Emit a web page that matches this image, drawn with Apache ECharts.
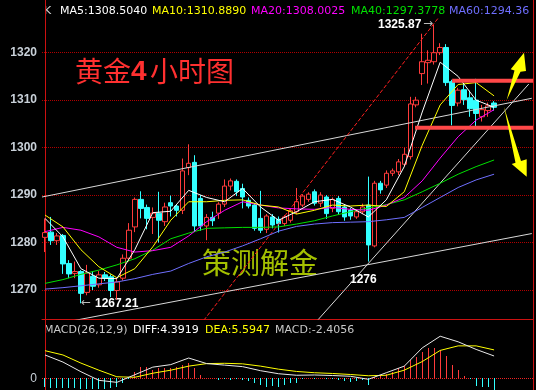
<!DOCTYPE html>
<html><head><meta charset="utf-8">
<script src="https://cdn.jsdelivr.net/npm/echarts@6/dist/echarts.min.js"></script>
<style>html,body{margin:0;padding:0;background:#000}#c{width:536px;height:390px}</style>
</head><body><div id="c"></div>
<script>
// ---- candle data (76 four-hour bars) ----
const opens = [1281.1,1282.2,1280.4,1281.5,1275.6,1273.5,1273.9,1269.5,1272.9,1271.1,
1273.2,1272.8,1269.9,1272.5,1276.7,1283.3,1289.1,1287.4,1285.3,1286.2,
1284.4,1288.4,1287.7,1286.8,1295.8,1296.9,1289.3,1283.5,1285.3,1286.2,
1288.1,1291.9,1292.9,1291.4,1288.9,1287.9,1285.1,1282.8,1285.4,1284.9,
1284.0,1284.7,1286.5,1287.9,1289.1,1290.7,1288.3,1289.6,1287.2,1289.3,
1287.5,1286.8,1285.4,1286.5,1287.9,1279.3,1292.5,1292.1,1294.6,1294.9,
1296.5,1298.1,1309.0,1315.6,1317.9,1318.1,1320.0,1321.1,1313.9,1309.4,
1312.2,1310.5,1310.0,1306.5,1307.8,1309.4];
const closes = [1282.1,1280.4,1281.4,1275.5,1273.4,1273.9,1269.3,1273.6,1270.8,1273.2,
1272.5,1269.9,1271.7,1276.7,1282.6,1289.1,1287.2,1285.1,1286.2,1284.7,
1287.5,1287.7,1286.8,1295.1,1296.7,1283.5,1283.5,1285.3,1284.6,1288.1,
1291.9,1293.0,1290.7,1289.6,1287.7,1283.0,1282.6,1285.6,1283.7,1284.0,
1285.4,1286.7,1288.6,1289.8,1290.2,1288.3,1290.0,1286.1,1289.1,1286.5,
1285.4,1285.6,1286.5,1287.5,1279.5,1292.5,1291.1,1294.6,1295.1,1297.0,
1298.6,1309.2,1310.0,1318.1,1318.4,1320.0,1321.1,1313.7,1308.9,1312.1,
1310.1,1308.2,1307.2,1308.0,1308.8,1308.5];
const lows = [1278.0,1279.5,1279.5,1273.4,1272.5,1272.5,1267.21,1268.9,1270.0,1270.5,
1271.9,1268.5,1268.0,1272.0,1276.0,1282.2,1285.1,1282.8,1281.8,1280.0,
1283.5,1285.5,1285.5,1286.0,1294.2,1282.2,1282.5,1280.5,1283.5,1285.0,
1287.5,1291.0,1289.8,1287.2,1287.2,1282.5,1282.0,1282.0,1283.0,1282.1,
1283.5,1284.2,1286.0,1287.5,1288.6,1287.8,1287.5,1285.0,1286.4,1285.8,
1284.6,1284.8,1285.0,1286.0,1276.0,1279.0,1290.3,1291.5,1294.0,1294.2,
1296.0,1297.5,1308.5,1313.2,1313.5,1317.5,1319.5,1313.0,1304.7,1308.7,
1309.0,1306.5,1304.5,1305.5,1306.5,1307.8];
const highs = [1285.0,1285.4,1282.0,1281.8,1276.3,1276.0,1274.2,1275.3,1274.0,1274.0,
1273.8,1273.3,1272.5,1277.5,1284.1,1289.5,1290.8,1288.0,1287.4,1290.7,
1288.4,1289.9,1288.0,1297.7,1300.7,1298.4,1290.0,1286.0,1286.5,1288.5,
1293.3,1293.5,1293.3,1292.4,1289.5,1288.3,1290.9,1286.0,1286.0,1285.5,
1285.8,1287.2,1291.5,1290.2,1290.6,1291.2,1290.6,1290.0,1289.5,1289.8,
1288.0,1287.3,1287.0,1288.2,1293.9,1293.0,1293.0,1295.2,1295.6,1297.6,
1300.0,1310.7,1310.7,1324.0,1320.5,1325.87,1322.0,1321.8,1314.3,1312.6,
1313.5,1312.0,1314.5,1309.0,1309.5,1309.8];

// ---- moving averages read at every third bar ----
const maIdx = [0,3,6,9,12,15,18,21,24,27,30,33,36,39,42,45,48,51,54,57,60,63,66,69,72,75];
const ma5  = [1285.1,1281.2,1274.5,1272.5,1272.4,1278.5,1286.3,1286.6,1291.0,1289.5,1288.6,1291.4,1287.5,1284.7,1286.5,1288.6,1289.1,1287.5,1285.4,1289.0,1296.0,1307.5,1318.0,1315.0,1310.0,1308.5];
const ma10 = [1285.8,1283.3,1278.5,1274.9,1272.6,1274.5,1279.1,1284.7,1288.6,1288.6,1288.9,1289.0,1287.9,1287.5,1286.0,1286.8,1287.9,1287.7,1287.9,1287.6,1290.7,1300.5,1309.0,1313.3,1313.7,1310.9];
const ma20 = [1282.3,1283.2,1282.6,1281.2,1279.0,1278.0,1278.3,1279.0,1281.4,1284.4,1286.8,1288.6,1287.9,1287.3,1287.1,1287.0,1287.4,1287.0,1286.8,1287.9,1289.5,1293.0,1297.8,1302.3,1305.8,1308.0];
const ma40 = [1271.4,1272.2,1273.3,1274.2,1275.3,1276.6,1278.4,1280.8,1282.0,1283.0,1283.1,1283.2,1283.2,1283.3,1283.9,1284.6,1285.6,1286.5,1287.3,1288.0,1289.0,1290.7,1292.5,1294.4,1296.0,1297.4];
const ma60 = [1270.2,1270.5,1270.9,1271.3,1271.7,1272.4,1273.3,1274.0,1275.6,1277.0,1278.0,1279.3,1280.8,1282.4,1283.4,1283.9,1284.2,1284.3,1284.4,1284.8,1285.3,1287.4,1289.5,1291.6,1293.2,1294.4];

// ---- MACD(26,12,9) ----
const macdHist = [-1.7,-1.9,-1.9,-2.0,-2.0,-2.0,-2.2,-2.2,-2.2,-2.2,
-2.2,-2.0,-1.8,-1.0,-0.2,1.3,2.2,2.2,1.6,2.0,
2.0,2.0,2.3,2.6,3.0,2.0,0.7,0.1,0,-0.3,
-0.1,-0.3,-0.2,-0.3,-0.6,-1.0,-1.3,-1.8,-1.5,-1.8,
-1.3,-1.0,-0.85,-0.2,0.1,-0.1,0.1,-0.2,-0.1,-0.3,
-0.6,-0.7,-0.6,-0.4,-1.4,0.2,0.5,0.9,1.3,2.0,
2.4,3.6,4.3,5.26,6.04,6.04,5.58,4.4,2.62,1.64,
0.45,-0.2,-1.6,-1.8,-1.8,-2.4];
const diffVals = [4.6,3.2,1.3,-0.4,-0.8,0.7,2.2,2.7,4.0,2.9,2.6,2.3,1.5,0.9,0.6,0.65,0.55,0.4,-0.2,1.1,2.4,6.0,8.3,7.2,5.7,4.4];
const deaVals  = [5.45,4.6,3.0,1.6,0.3,0.2,1.0,1.6,2.4,2.9,2.96,2.85,2.4,1.8,1.35,1.1,0.95,0.75,0.5,0.6,1.6,3.3,5.5,6.4,6.4,5.6];

// ---- drawn trend lines: [bar index, price] ----
const channelUpper = [[-0.5,1289.6],[81.3,1310.4]];
const channelLower = [[-0.5,1262.3],[81.3,1281.9]];
const riseLine     = [[44.5,1262.2],[80.8,1313.4]];
const redDiagonal  = [[26.5,1263.6],[65.8,1327.5]];
const resistance   = [[68,1314.1],[81.5,1314.1]];
const support      = [[61.8,1304.2],[81.5,1304.2]];

const priceTicks = [1270,1280,1290,1300,1310,1320];
const slotCount = 82;
const categories = Array.from({length: slotCount}, (_, i) => 'B' + i);

const legendItems = [
  {text:'K', color:'#d8d8d8'},
  {text:'MA5:1308.5040', color:'#ffffff'},
  {text:'MA10:1310.8890', color:'#ffff00'},
  {text:'MA20:1308.0025', color:'#ff00ff'},
  {text:'MA40:1297.3778', color:'#00e000'},
  {text:'MA60:1294.36', color:'#6f6fff'}
];
const legendX = [44,60,152,251,351,449];
const macdItems = [
  {text:'MACD(26,12,9)', color:'#c8c8c8'},
  {text:'DIFF:4.3919', color:'#ffffff'},
  {text:'DEA:5.5947', color:'#ffff00'},
  {text:'MACD:-2.4056', color:'#c8c8c8'}
];
const macdX = [44,133,205,275];

const candleData = opens.map((o, i) => [o, closes[i], lows[i], highs[i]]);
const pairs = (vals) => maIdx.map((ix, k) => [ix, vals[k]]);

const UP = '#ff3b3b', DOWN = '#33ffff', AXISRED = '#cc1111', GRIDRED = '#b00000';
const FONT = '"DejaVu Sans", sans-serif';

function lineSeries(data, color, width, xi, yi, type) {
  return {type:'line', data, xAxisIndex: xi, yAxisIndex: yi, symbol:'none', silent:true,
    lineStyle:{color, width, type: type || 'solid'}, clip:true};
}

const graphic = [];
legendItems.forEach((it, k) => graphic.push({type:'text', x: legendX[k], y: 11,
  style:{text: it.text, fill: it.color, font: '11px ' + FONT, verticalAlign:'middle'}}));
macdItems.forEach((it, k) => graphic.push({type:'text', x: macdX[k], y: 330,
  style:{text: it.text, fill: it.color, font: '11px ' + FONT, verticalAlign:'middle'}}));
graphic.push(
  {type:'text', x:75, y:71.5, style:{text:'黄金', fill:'#ff3030', font:'28px "Noto Sans CJK SC"', verticalAlign:'middle'}},
  {type:'text', x:131, y:72.5, style:{text:'4', fill:'#ff3030', font:'bold 28px "Liberation Sans"', verticalAlign:'middle'}},
  {type:'text', x:150, y:71.5, style:{text:'小时图', fill:'#ff3030', font:'28px "Noto Sans CJK SC"', verticalAlign:'middle'}},
  {type:'text', x:202, y:263, style:{text:'策测解金', fill:'#a4c000', font:'29px "Noto Sans CJK SC"', verticalAlign:'middle'}},
  {type:'text', x:378, y:24.5, style:{text:'1325.87', fill:'#ffffff', font:'bold 12px "Liberation Sans"', verticalAlign:'middle'}},
  {type:'text', x:423, y:24, style:{text:'→', fill:'#bbbbbb', font:'12px "DejaVu Sans"', verticalAlign:'middle'}},
  {type:'text', x:81, y:303, style:{text:'←', fill:'#bbbbbb', font:'12px "DejaVu Sans"', verticalAlign:'middle'}},
  {type:'text', x:95, y:303.5, style:{text:'1267.21', fill:'#ffffff', font:'bold 12px "Liberation Sans"', verticalAlign:'middle'}},
  {type:'text', x:350, y:279.5, style:{text:'1276', fill:'#ffffff', font:'bold 12px "Liberation Sans"', verticalAlign:'middle'}},
  {type:'polygon', z:100, shape:{points:[[506.7,100],[514.5,70.5],[510.7,69.3],[524,52.7],[526,71],[520.5,71.7]]}, style:{fill:'#ffff00'}},
  {type:'polygon', z:100, shape:{points:[[504,106.7],[521,161],[526.7,159.3],[526.7,176.7],[511.7,164],[515.5,162.8]]}, style:{fill:'#ffff00'}},
  {type:'line', shape:{x1:533.5,y1:0,x2:533.5,y2:390}, style:{stroke:AXISRED, lineWidth:1}}
);

const option = {
  animation:false,
  backgroundColor:'#000',
  grid:[
    {left:42, right:3, top:0, height:319, show:false},
    {left:42, right:3, top:319, height:71, show:false}
  ],
  xAxis:[
    {type:'category', gridIndex:0, data:categories, boundaryGap:true,
      axisLine:{show:true, lineStyle:{color:AXISRED}}, axisTick:{show:false}, axisLabel:{show:false}, splitLine:{show:false}},
    {type:'value', gridIndex:0, min:-0.5, max:slotCount-0.5, show:false},
    {type:'category', gridIndex:1, data:categories, boundaryGap:true, show:false},
    {type:'value', gridIndex:1, min:-0.5, max:slotCount-0.5, show:false}
  ],
  yAxis:[
    {type:'value', gridIndex:0, min:1263.9, max:1331.1, position:'left',
      axisLine:{show:true, lineStyle:{color:AXISRED}},
      axisTick:{show:false, customValues:priceTicks},
      axisLabel:{customValues:priceTicks, formatter:(v) => String(v), color:'#c8d0d8', fontFamily:'Liberation Sans', fontWeight:'bold', fontSize:12, margin:5},
      splitLine:{show:true, lineStyle:{color:GRIDRED, type:'dotted', width:1}}},
    {type:'value', gridIndex:1, min:-2.31, max:11.7, position:'left',
      axisLine:{show:true, lineStyle:{color:AXISRED}},
      axisTick:{show:false, customValues:[0]},
      axisLabel:{customValues:[0], formatter:(v) => String(v), color:'#c8d0d8', fontFamily:'Liberation Sans', fontSize:12, margin:5},
      splitLine:{show:true, lineStyle:{color:'#ee2222', type:'dotted', width:1}}}
  ],
  series:[
    lineSeries(channelUpper, '#d8d8d8', 1, 1, 0),
    lineSeries(channelLower, '#d8d8d8', 1, 1, 0),
    lineSeries(riseLine, '#d8d8d8', 1, 1, 0),
    lineSeries(redDiagonal, '#ff2020', 1, 1, 0, [4,2]),
    {type:'candlestick', xAxisIndex:0, yAxisIndex:0, data:candleData, barWidth:5, silent:true,
      itemStyle:{color:'#000', color0:DOWN, borderColor:UP, borderColor0:DOWN, borderColorDoji:UP, borderWidth:1}},
    lineSeries(pairs(ma60), '#6f6fff', 1, 1, 0),
    lineSeries(pairs(ma40), '#00e000', 1, 1, 0),
    lineSeries(pairs(ma20), '#ff00ff', 1, 1, 0),
    lineSeries(pairs(ma10), '#ffff00', 1, 1, 0),
    lineSeries(pairs(ma5), '#ffffff', 1, 1, 0),
    lineSeries(resistance, '#ff4848', 4, 1, 0),
    lineSeries(support, '#ff4848', 4, 1, 0),
    {type:'custom', xAxisIndex:3, yAxisIndex:1, silent:true, clip:true,
      data: macdHist.map((v, i) => [i, v]),
      renderItem: (params, api) => {
        const i = api.value(0), v = api.value(1);
        const p0 = api.coord([i, 0]), p1 = api.coord([i, v]);
        const x = Math.floor(p0[0]);
        const y0 = Math.round(p0[1]), y1 = Math.round(p1[1]);
        return {type:'rect', shape:{x, y: Math.min(y0, y1), width:1, height: Math.abs(y1 - y0)},
          style:{fill: v >= 0 ? UP : DOWN}};
      }},
    lineSeries(pairs(deaVals), '#ffff00', 1, 3, 1),
    lineSeries(pairs(diffVals), '#e8e8e8', 1, 3, 1)
  ],
  graphic
};
const chart = echarts.init(document.getElementById('c'), null, {renderer:'canvas'});
chart.setOption(option);
</script>
</body></html>
